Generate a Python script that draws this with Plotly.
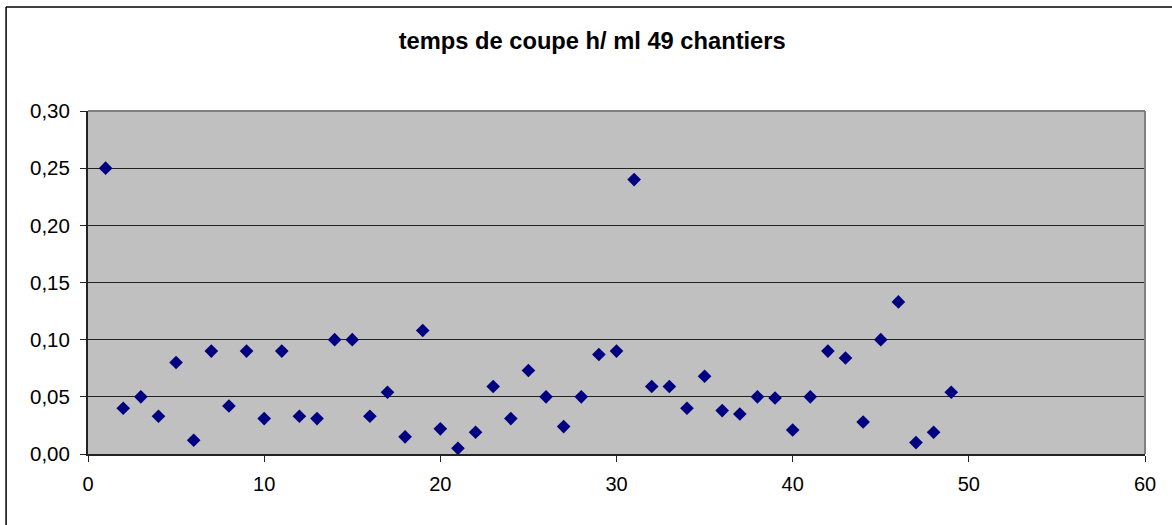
import plotly.graph_objects as go

chantier = list(range(1, 50))
temps = [0.25, 0.04, 0.05, 0.033, 0.08, 0.012, 0.09, 0.042, 0.09, 0.031,
         0.09, 0.033, 0.031, 0.10, 0.10, 0.033, 0.054, 0.015, 0.108, 0.022,
         0.005, 0.019, 0.059, 0.031, 0.073, 0.05, 0.024, 0.05, 0.087, 0.09,
         0.24, 0.059, 0.059, 0.04, 0.068, 0.038, 0.035, 0.05, 0.049, 0.021,
         0.05, 0.09, 0.084, 0.028, 0.10, 0.133, 0.01, 0.019, 0.054]
x_ticks = [0, 10, 20, 30, 40, 50, 60]
y_ticks = [0.0, 0.05, 0.10, 0.15, 0.20, 0.25, 0.30]
y_labels = ["0,00", "0,05", "0,10", "0,15", "0,20", "0,25", "0,30"]
title_text = "temps de coupe h/ ml 49 chantiers"

FONT = "Liberation Sans, Arial, sans-serif"

fig = go.Figure()
fig.add_trace(go.Scatter(
    x=chantier, y=temps, mode="markers",
    marker=dict(symbol="diamond", size=10.5, color="#000080", line=dict(width=0)),
    hoverinfo="skip", showlegend=False,
))

fig.update_layout(
    width=1172, height=525,
    margin=dict(l=88, r=27, t=111, b=71),
    paper_bgcolor="white", plot_bgcolor="#C0C0C0",
    font=dict(family=FONT, size=20, color="black"),
    title=dict(text="<b>" + title_text + "</b>", x=0.477, xref="paper", xanchor="center",
               y=1 - 41 / 525, yref="container", yanchor="middle",
               font=dict(family=FONT, size=23.7, color="black")),
    xaxis=dict(range=[0, 60], tickvals=x_ticks, ticktext=[str(v) for v in x_ticks],
               showgrid=False, zeroline=False, showline=True, linecolor="#222222",
               linewidth=2, ticks="outside", ticklen=6, tickcolor="#222222",
               ticklabelstandoff=5, fixedrange=True),
    yaxis=dict(range=[0, 0.30], tickvals=y_ticks, ticktext=y_labels,
               showgrid=True, gridcolor="#222222", gridwidth=1, zeroline=False,
               showline=True, linecolor="#222222", linewidth=2,
               ticks="outside", ticklen=6, tickcolor="#222222",
               tickfont=dict(size=20.5),
               ticklabelstandoff=6, fixedrange=True),
    hovermode=False,
    shapes=[
        dict(type="line", xref="paper", yref="paper", x0=0, x1=1, y0=1, y1=1,
             line=dict(color="#808080", width=2), layer="above"),
        dict(type="line", xref="paper", yref="paper", x0=1, x1=1, y0=0, y1=1,
             line=dict(color="#808080", width=2), layer="above"),
        dict(type="line", xref="paper", yref="paper", x0=-0.0775, x1=-0.0775,
             y0=1.303, y1=-0.3, line=dict(color="black", width=1.5)),
        dict(type="line", xref="paper", yref="paper", x0=-0.0775, x1=1.1,
             y0=1.303, y1=1.303, line=dict(color="black", width=1.5)),
    ],
)

fig.write_html("out.html", config={"displayModeBar": False},
               post_script="document.body.style.margin='0';document.body.style.overflow='hidden';")
